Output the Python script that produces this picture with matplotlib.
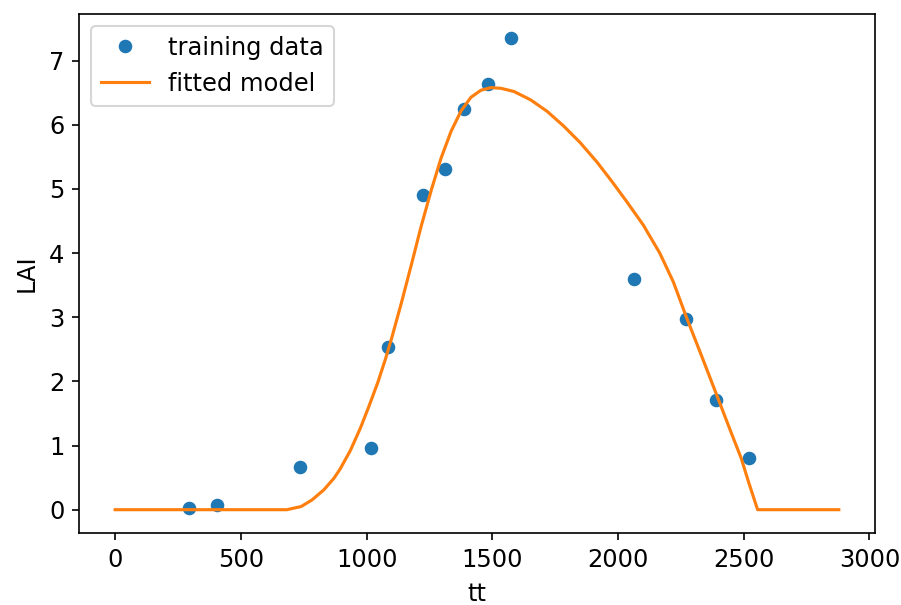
import matplotlib
matplotlib.use("Agg")
import matplotlib.pyplot as plt

plt.rcParams['font.size'] = 11.6

# training data
train_tt = [293, 406, 736, 1019, 1085, 1226, 1312, 1388, 1481, 1576, 2065, 2272, 2391, 2519]
train_lai = [0.03, 0.07, 0.66, 0.96, 2.53, 4.91, 5.31, 6.25, 6.64, 7.36, 3.60, 2.97, 1.71, 0.81]

# fitted model curve
model_tt = [0, 683, 740, 782, 830, 870, 894, 935, 975, 1010, 1045, 1075, 1100, 1138,
            1178, 1217, 1257, 1296, 1336, 1376, 1415, 1455, 1494, 1534, 1586, 1652,
            1718, 1784, 1850, 1916, 1975, 2035, 2100, 2166, 2220, 2272, 2330, 2401,
            2450, 2490, 2520, 2555, 2878]
model_lai = [0, 0, 0.05, 0.15, 0.31, 0.49, 0.63, 0.92, 1.27, 1.62, 1.99, 2.35, 2.68, 3.22,
             3.82, 4.42, 4.98, 5.48, 5.90, 6.22, 6.43, 6.54, 6.58, 6.57, 6.52, 6.39,
             6.21, 5.98, 5.72, 5.42, 5.12, 4.80, 4.44, 4.00, 3.55, 3.00, 2.42, 1.70,
             1.20, 0.80, 0.42, 0.0, 0.0]

fig = plt.figure(figsize=(901 / 150, 605 / 150), dpi=150)
ax = fig.add_axes([79 / 901, 1 - 533.3 / 605, (875 - 79) / 901, (533.3 - 14) / 605])
ax.plot(train_tt, train_lai, 'o', color='#1f77b4', markersize=5.5, label='training data')
ax.plot(model_tt, model_lai, '-', color='#ff7f0e', linewidth=1.5, label='fitted model')
ax.set_xlabel('tt', labelpad=5)
ax.set_ylabel('LAI', labelpad=5)
ax.set_xticks([0, 500, 1000, 1500, 2000, 2500, 3000])
ax.set_yticks(range(0, 8))
ax.legend(loc='upper left')
fig.savefig('out.png', dpi=150)
